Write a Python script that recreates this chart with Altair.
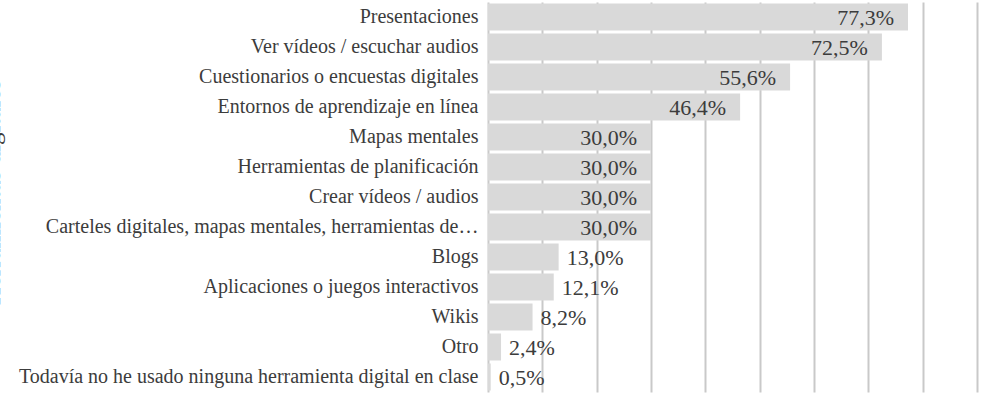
import altair as alt
import pandas as pd

categories = [
    "Presentaciones",
    "Ver vídeos / escuchar audios",
    "Cuestionarios o encuestas digitales",
    "Entornos de aprendizaje en línea",
    "Mapas mentales",
    "Herramientas de planificación",
    "Crear vídeos / audios",
    "Carteles digitales, mapas mentales, herramientas de…",
    "Blogs",
    "Aplicaciones o juegos interactivos",
    "Wikis",
    "Otro",
    "Todavía no he usado ninguna herramienta digital en clase",
]
values = [77.3, 72.5, 55.6, 46.4, 30.0, 30.0, 30.0, 30.0, 13.0, 12.1, 8.2, 2.4, 0.5]
grid_values = [0, 10, 20, 30, 40, 50, 60, 70, 80, 90]
y_title = "Herramientas digitales"

df = pd.DataFrame({"category": categories, "value": values})

FONT = "Liberation Serif"
TEXT_COLOR = "#3c3c3c"

x_enc = alt.X(
    "value:Q",
    scale=alt.Scale(domain=[0, 90], nice=False, zero=True),
    axis=alt.Axis(
        values=grid_values,
        labels=False,
        ticks=False,
        domain=False,
        title=None,
        grid=True,
        gridColor="#c9c9c9",
        gridWidth=2,
    ),
)
y_enc = alt.Y(
    "category:N",
    sort=categories,
    scale=alt.Scale(paddingInner=0.1, paddingOuter=0.05),
    axis=alt.Axis(
        title=y_title,
        titleFont=FONT,
        titleFontSize=25,
        titleFontWeight="normal",
        titleColor=TEXT_COLOR,
        titleAngle=270,
        titleAlign="center",
        titleBaseline="alphabetic",
        titleX=-489,
        titleY=190,
        labelFont=FONT,
        labelFontSize=20,
        labelColor=TEXT_COLOR,
        labelPadding=10,
        labelLimit=0,
        ticks=False,
        domain=False,
        grid=False,
    ),
)

base = alt.Chart(df).transform_calculate(
    label="replace(format(datum.value, '.1f'), '.', ',') + '%'"
)

bars = base.mark_bar(color="#d9d9d9").encode(x=x_enc, y=y_enc)

inside = base.transform_filter("datum.value >= 20").mark_text(
    align="right", baseline="middle", dx=-14, dy=1, font=FONT, fontSize=22, color=TEXT_COLOR
).encode(x="value:Q", y=alt.Y("category:N", sort=categories), text="label:N")

outside = base.transform_filter("datum.value < 20").mark_text(
    align="left", baseline="middle", dx=8, dy=1, font=FONT, fontSize=22, color=TEXT_COLOR
).encode(x="value:Q", y=alt.Y("category:N", sort=categories), text="label:N")

chart = (
    alt.layer(bars, inside, outside)
    .properties(
        width=489,
        height=390,
        padding={"left": 488, "top": 2, "right": 7, "bottom": 4},
        autosize=alt.AutoSizeParams(type="none"),
    )
    .configure_view(stroke=None)
)

chart.save("out.html", embed_options={"renderer": "svg", "actions": False})
